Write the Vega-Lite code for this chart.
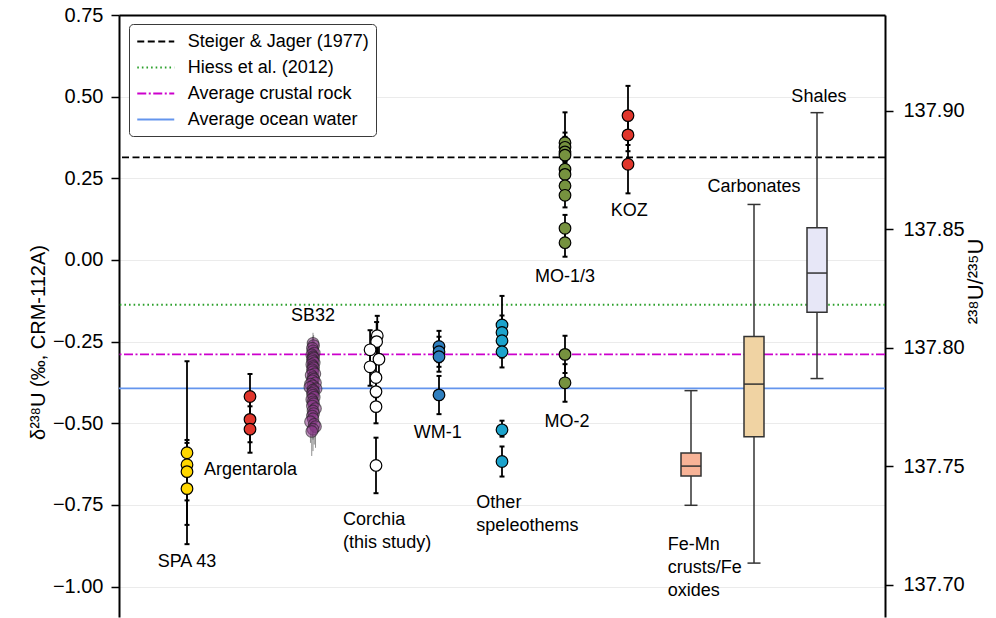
{
  "$schema": "https://vega.github.io/schema/vega-lite/v6.json",
  "width": 766,
  "height": 602,
  "autosize": {"type": "none"},
  "padding": {"left": 119, "top": 15, "right": 111, "bottom": 1},
  "background": "white",
  "config": {
    "view": {"stroke": null},
    "font": "Liberation Sans",
    "axis": {
      "labelFont": "Liberation Sans",
      "titleFont": "Liberation Sans",
      "labelFontSize": 20,
      "titleFontSize": 20,
      "titleFontWeight": "normal",
      "labelColor": "black",
      "titleColor": "black",
      "domainColor": "black",
      "domainWidth": 2,
      "tickColor": "black",
      "tickWidth": 1.5,
      "tickSize": 8,
      "labelPadding": 8,
      "gridColor": "#ebebeb",
      "gridWidth": 1
    },
    "legend": {
      "labelFont": "Liberation Sans",
      "labelFontSize": 18,
      "labelColor": "black",
      "labelLimit": 400
    }
  },
  "datasets": {
    "refs": [
      {"name": "Steiger & Jager (1977)", "value": 0.314},
      {"name": "Hiess et al. (2012)", "value": -0.137},
      {"name": "Average crustal rock", "value": -0.289},
      {"name": "Average ocean water", "value": -0.393}
    ],
    "pts": [
      {"g": "SPA 43", "x": 1, "y": -0.59, "lo": -0.87, "hi": -0.31},
      {"g": "SPA 43", "x": 1, "y": -0.627, "lo": -0.703, "hi": -0.551},
      {"g": "SPA 43", "x": 1, "y": -0.648, "lo": -0.736, "hi": -0.56},
      {"g": "SPA 43", "x": 1, "y": -0.7, "lo": -0.811, "hi": -0.59},
      {"g": "Argentarola", "x": 2, "y": -0.418, "lo": -0.487, "hi": -0.349},
      {"g": "Argentarola", "x": 2, "y": -0.488, "lo": -0.558, "hi": -0.418},
      {"g": "Argentarola", "x": 2, "y": -0.518, "lo": -0.59, "hi": -0.448},
      {"g": "Corchia", "x": 4.02, "y": -0.232, "lo": -0.29, "hi": -0.171},
      {"g": "Corchia", "x": 4.01, "y": -0.25, "lo": -0.31, "hi": -0.19},
      {"g": "Corchia", "x": 3.906, "y": -0.275, "lo": -0.335, "hi": -0.215},
      {"g": "Corchia", "x": 4.047, "y": -0.304, "lo": -0.36, "hi": -0.245},
      {"g": "Corchia", "x": 3.906, "y": -0.327, "lo": -0.385, "hi": -0.27},
      {"g": "Corchia", "x": 4.0, "y": -0.36, "lo": -0.42, "hi": -0.3},
      {"g": "Corchia", "x": 4.0, "y": -0.403, "lo": -0.46, "hi": -0.345},
      {"g": "Corchia", "x": 4.0, "y": -0.449, "lo": -0.5, "hi": -0.395},
      {"g": "Corchia", "x": 4.0, "y": -0.629, "lo": -0.714, "hi": -0.544},
      {"g": "WM-1", "x": 5, "y": -0.265, "lo": -0.313, "hi": -0.217},
      {"g": "WM-1", "x": 5, "y": -0.281, "lo": -0.327, "hi": -0.235},
      {"g": "WM-1", "x": 5, "y": -0.296, "lo": -0.342, "hi": -0.25},
      {"g": "WM-1", "x": 5, "y": -0.413, "lo": -0.472, "hi": -0.355},
      {"g": "Other speleothems", "x": 6, "y": -0.199, "lo": -0.288, "hi": -0.11},
      {"g": "Other speleothems", "x": 6, "y": -0.222, "lo": -0.274, "hi": -0.17},
      {"g": "Other speleothems", "x": 6, "y": -0.247, "lo": -0.299, "hi": -0.195},
      {"g": "Other speleothems", "x": 6, "y": -0.281, "lo": -0.329, "hi": -0.233},
      {"g": "Other speleothems", "x": 6, "y": -0.52, "lo": -0.541, "hi": -0.492},
      {"g": "Other speleothems", "x": 6, "y": -0.617, "lo": -0.663, "hi": -0.571},
      {"g": "MO", "x": 7, "y": 0.359, "lo": 0.266, "hi": 0.452},
      {"g": "MO", "x": 7, "y": 0.345, "lo": 0.3, "hi": 0.39},
      {"g": "MO", "x": 7, "y": 0.331, "lo": 0.285, "hi": 0.377},
      {"g": "MO", "x": 7, "y": 0.321, "lo": 0.275, "hi": 0.367},
      {"g": "MO", "x": 7, "y": 0.278, "lo": 0.235, "hi": 0.321},
      {"g": "MO", "x": 7, "y": 0.262, "lo": 0.22, "hi": 0.304},
      {"g": "MO", "x": 7, "y": 0.227, "lo": 0.185, "hi": 0.269},
      {"g": "MO", "x": 7, "y": 0.198, "lo": 0.161, "hi": 0.235},
      {"g": "MO", "x": 7, "y": 0.097, "lo": 0.056, "hi": 0.138},
      {"g": "MO", "x": 7, "y": 0.053, "lo": 0.01, "hi": 0.096},
      {"g": "MO", "x": 7, "y": -0.289, "lo": -0.346, "hi": -0.232},
      {"g": "MO", "x": 7, "y": -0.376, "lo": -0.434, "hi": -0.319},
      {"g": "KOZ", "x": 8, "y": 0.442, "lo": 0.352, "hi": 0.533},
      {"g": "KOZ", "x": 8, "y": 0.383, "lo": 0.333, "hi": 0.433},
      {"g": "KOZ", "x": 8, "y": 0.293, "lo": 0.204, "hi": 0.382}
    ],
    "sb32": [
      {"x": 3.0, "y": -0.255, "lo": -0.31, "hi": -0.223},
      {"x": 3.01, "y": -0.262, "lo": -0.32, "hi": -0.23},
      {"x": 2.99, "y": -0.27, "lo": -0.33, "hi": -0.235},
      {"x": 3.0, "y": -0.278, "lo": -0.335, "hi": -0.24},
      {"x": 3.02, "y": -0.285, "lo": -0.34, "hi": -0.245},
      {"x": 2.98, "y": -0.29, "lo": -0.345, "hi": -0.25},
      {"x": 3.0, "y": -0.296, "lo": -0.35, "hi": -0.255},
      {"x": 3.01, "y": -0.3, "lo": -0.355, "hi": -0.26},
      {"x": 2.99, "y": -0.305, "lo": -0.36, "hi": -0.26},
      {"x": 3.0, "y": -0.31, "lo": -0.365, "hi": -0.265},
      {"x": 3.02, "y": -0.315, "lo": -0.37, "hi": -0.27},
      {"x": 2.98, "y": -0.32, "lo": -0.375, "hi": -0.27},
      {"x": 3.0, "y": -0.326, "lo": -0.38, "hi": -0.28},
      {"x": 3.01, "y": -0.33, "lo": -0.385, "hi": -0.285},
      {"x": 2.99, "y": -0.336, "lo": -0.39, "hi": -0.29},
      {"x": 3.0, "y": -0.342, "lo": -0.395, "hi": -0.29},
      {"x": 3.03, "y": -0.348, "lo": -0.4, "hi": -0.3},
      {"x": 2.97, "y": -0.353, "lo": -0.405, "hi": -0.3},
      {"x": 3.0, "y": -0.36, "lo": -0.41, "hi": -0.31},
      {"x": 3.01, "y": -0.365, "lo": -0.415, "hi": -0.315},
      {"x": 2.99, "y": -0.37, "lo": -0.42, "hi": -0.32},
      {"x": 3.04, "y": -0.376, "lo": -0.43, "hi": -0.325},
      {"x": 2.96, "y": -0.38, "lo": -0.435, "hi": -0.33},
      {"x": 3.0, "y": -0.385, "lo": -0.44, "hi": -0.335},
      {"x": 2.95, "y": -0.39, "lo": -0.445, "hi": -0.34},
      {"x": 3.05, "y": -0.394, "lo": -0.45, "hi": -0.34},
      {"x": 3.0, "y": -0.398, "lo": -0.455, "hi": -0.345},
      {"x": 3.01, "y": -0.403, "lo": -0.46, "hi": -0.35},
      {"x": 2.99, "y": -0.408, "lo": -0.465, "hi": -0.355},
      {"x": 3.0, "y": -0.414, "lo": -0.47, "hi": -0.36},
      {"x": 3.02, "y": -0.42, "lo": -0.475, "hi": -0.365},
      {"x": 2.98, "y": -0.427, "lo": -0.48, "hi": -0.37},
      {"x": 3.0, "y": -0.434, "lo": -0.49, "hi": -0.38},
      {"x": 3.01, "y": -0.44, "lo": -0.5, "hi": -0.385},
      {"x": 2.99, "y": -0.447, "lo": -0.505, "hi": -0.39},
      {"x": 3.04, "y": -0.455, "lo": -0.51, "hi": -0.4},
      {"x": 3.0, "y": -0.462, "lo": -0.52, "hi": -0.405},
      {"x": 3.01, "y": -0.47, "lo": -0.53, "hi": -0.41},
      {"x": 2.99, "y": -0.478, "lo": -0.54, "hi": -0.42},
      {"x": 3.0, "y": -0.486, "lo": -0.55, "hi": -0.43},
      {"x": 2.96, "y": -0.495, "lo": -0.56, "hi": -0.44},
      {"x": 3.02, "y": -0.503, "lo": -0.565, "hi": -0.445},
      {"x": 3.04, "y": -0.51, "lo": -0.575, "hi": -0.45},
      {"x": 3.0, "y": -0.518, "lo": -0.585, "hi": -0.455},
      {"x": 2.98, "y": -0.525, "lo": -0.6, "hi": -0.46}
    ],
    "boxes": [
      {"g": "Fe-Mn", "x": 9, "wlo": -0.751, "q1": -0.661, "med": -0.631, "q3": -0.591, "whi": -0.4},
      {"g": "Carbonates", "x": 10, "wlo": -0.928, "q1": -0.541, "med": -0.38, "q3": -0.234, "whi": 0.17},
      {"g": "Shales", "x": 11, "wlo": -0.363, "q1": -0.16, "med": -0.04, "q3": 0.099, "whi": 0.451}
    ],
    "labels_center": [
      {"x": 1.0, "y": -0.924, "text": "SPA 43"},
      {"x": 3.0, "y": -0.171, "text": "SB32"},
      {"x": 4.98, "y": -0.531, "text": "WM-1"},
      {"x": 7.0, "y": -0.053, "text": "MO-1/3"},
      {"x": 7.03, "y": -0.495, "text": "MO-2"},
      {"x": 8.02, "y": 0.151, "text": "KOZ"},
      {"x": 10.0, "y": 0.223, "text": "Carbonates"},
      {"x": 11.03, "y": 0.499, "text": "Shales"}
    ],
    "labels_left": [
      {"x": 1.27, "y": -0.643, "text": ["Argentarola"]},
      {"x": 3.478, "y": -0.796, "text": ["Corchia", "(this study)"]},
      {"x": 5.593, "y": -0.745, "text": ["Other", "speleothems"]},
      {"x": 8.632, "y": -0.872, "text": ["Fe-Mn", "crusts/Fe", "oxides"]}
    ],
    "ratio": [{"r": 137.7}, {"r": 137.9}]
  },
  "layer": [
    {
      "layer": [
        {
          "data": {"name": "refs"},
          "mark": {"type": "rule", "strokeWidth": 1.8},
          "encoding": {
            "y": {"field": "value", "type": "quantitative", "scale": {"domain": [-1.093, 0.75], "nice": false, "zero": false},
                  "axis": {"values": [-1, -0.75, -0.5, -0.25, 0, 0.25, 0.5, 0.75], "format": ".2f", "title": "δ²³⁸U (‰, CRM-112A)", "grid": true, "titleX": -81, "titleY": 327, "titleAngle": 270, "titleAlign": "center", "titleBaseline": "middle"}},
            "color": {
              "field": "name", "type": "nominal",
              "scale": {"domain": ["Steiger & Jager (1977)", "Hiess et al. (2012)", "Average crustal rock", "Average ocean water"],
                        "range": ["#000000", "#2ca02c", "#cc00cc", "#6495ed"]},
              "legend": {"title": null, "orient": "none", "legendX": 10, "legendY": 9,
                         "symbolType": "M-2,0H2", "symbolSize": 342, "symbolStrokeWidth": 1.8, "symbolOffset": 9.25,
                         "labelOffset": 21.5, "rowPadding": 6, "padding": 7,
                         "strokeColor": "#3a3a3a", "fillColor": "white", "cornerRadius": 4}
            },
            "strokeDash": {
              "field": "name", "type": "nominal",
              "scale": {"domain": ["Steiger & Jager (1977)", "Hiess et al. (2012)", "Average crustal rock", "Average ocean water"],
                        "range": [[7, 3.5], [1.6, 3], [9, 2.5, 2, 2.5], [1, 0]]},
              "legend": {"title": null}
            }
          }
        },
        {
          "data": {"name": "boxes"},
          "mark": {"type": "rule", "stroke": "#333", "strokeWidth": 1.5},
          "encoding": {
            "x": {"field": "x", "type": "quantitative", "scale": {"domain": [0, 12], "nice": false, "zero": false}, "axis": {"orient": "top", "labels": false, "ticks": false, "title": null, "grid": false}},
            "y": {"field": "wlo", "type": "quantitative", "scale": {"domain": [-1.093, 0.75], "nice": false, "zero": false}, "axis": {"values": [-1, -0.75, -0.5, -0.25, 0, 0.25, 0.5, 0.75], "format": ".2f", "title": "δ²³⁸U (‰, CRM-112A)", "grid": true, "titleX": -81, "titleY": 327, "titleAngle": 270, "titleAlign": "center", "titleBaseline": "middle"}},
            "y2": {"field": "whi"}
          }
        },
        {
          "data": {"name": "boxes"},
          "mark": {"type": "bar", "size": 20, "stroke": "#333", "strokeWidth": 1.5},
          "encoding": {
            "x": {"field": "x", "type": "quantitative", "scale": {"domain": [0, 12], "nice": false, "zero": false}, "axis": {"orient": "top", "labels": false, "ticks": false, "title": null, "grid": false}},
            "y": {"field": "q1", "type": "quantitative", "scale": {"domain": [-1.093, 0.75], "nice": false, "zero": false}, "axis": {"values": [-1, -0.75, -0.5, -0.25, 0, 0.25, 0.5, 0.75], "format": ".2f", "title": "δ²³⁸U (‰, CRM-112A)", "grid": true, "titleX": -81, "titleY": 327, "titleAngle": 270, "titleAlign": "center", "titleBaseline": "middle"}},
            "y2": {"field": "q3"},
            "fill": {"field": "g", "type": "nominal", "legend": null,
                     "scale": {"domain": ["SPA 43", "Argentarola", "Corchia", "WM-1", "Other speleothems", "MO", "KOZ", "Fe-Mn", "Carbonates", "Shales"],
                               "range": ["#ffd700", "#e0362c", "#ffffff", "#2f7fbf", "#1ca3cc", "#76923f", "#e0362c", "#f8b397", "#f0d3a3", "#e7e7f7"]}}
          }
        },
        {
          "data": {"name": "boxes"},
          "mark": {"type": "point", "shape": "stroke", "size": 400, "stroke": "#333", "strokeWidth": 1.5, "opacity": 1},
          "encoding": {
            "x": {"field": "x", "type": "quantitative", "scale": {"domain": [0, 12], "nice": false, "zero": false}, "axis": {"orient": "top", "labels": false, "ticks": false, "title": null, "grid": false}},
            "y": {"field": "med", "type": "quantitative", "scale": {"domain": [-1.093, 0.75], "nice": false, "zero": false}, "axis": {"values": [-1, -0.75, -0.5, -0.25, 0, 0.25, 0.5, 0.75], "format": ".2f", "title": "δ²³⁸U (‰, CRM-112A)", "grid": true, "titleX": -81, "titleY": 327, "titleAngle": 270, "titleAlign": "center", "titleBaseline": "middle"}}
          }
        },
        {
          "data": {"name": "boxes"},
          "mark": {"type": "point", "shape": "stroke", "size": 169, "stroke": "#333", "strokeWidth": 1.5, "opacity": 1},
          "encoding": {
            "x": {"field": "x", "type": "quantitative", "scale": {"domain": [0, 12], "nice": false, "zero": false}, "axis": {"orient": "top", "labels": false, "ticks": false, "title": null, "grid": false}},
            "y": {"field": "wlo", "type": "quantitative", "scale": {"domain": [-1.093, 0.75], "nice": false, "zero": false}, "axis": {"values": [-1, -0.75, -0.5, -0.25, 0, 0.25, 0.5, 0.75], "format": ".2f", "title": "δ²³⁸U (‰, CRM-112A)", "grid": true, "titleX": -81, "titleY": 327, "titleAngle": 270, "titleAlign": "center", "titleBaseline": "middle"}}
          }
        },
        {
          "data": {"name": "boxes"},
          "mark": {"type": "point", "shape": "stroke", "size": 169, "stroke": "#333", "strokeWidth": 1.5, "opacity": 1},
          "encoding": {
            "x": {"field": "x", "type": "quantitative", "scale": {"domain": [0, 12], "nice": false, "zero": false}, "axis": {"orient": "top", "labels": false, "ticks": false, "title": null, "grid": false}},
            "y": {"field": "whi", "type": "quantitative", "scale": {"domain": [-1.093, 0.75], "nice": false, "zero": false}, "axis": {"values": [-1, -0.75, -0.5, -0.25, 0, 0.25, 0.5, 0.75], "format": ".2f", "title": "δ²³⁸U (‰, CRM-112A)", "grid": true, "titleX": -81, "titleY": 327, "titleAngle": 270, "titleAlign": "center", "titleBaseline": "middle"}}
          }
        },
        {
          "data": {"name": "sb32"},
          "mark": {"type": "rule", "stroke": "#333", "strokeWidth": 1, "opacity": 0.55},
          "encoding": {
            "x": {"field": "x", "type": "quantitative", "scale": {"domain": [0, 12], "nice": false, "zero": false}, "axis": {"orient": "top", "labels": false, "ticks": false, "title": null, "grid": false}},
            "y": {"field": "lo", "type": "quantitative", "scale": {"domain": [-1.093, 0.75], "nice": false, "zero": false}, "axis": {"values": [-1, -0.75, -0.5, -0.25, 0, 0.25, 0.5, 0.75], "format": ".2f", "title": "δ²³⁸U (‰, CRM-112A)", "grid": true, "titleX": -81, "titleY": 327, "titleAngle": 270, "titleAlign": "center", "titleBaseline": "middle"}},
            "y2": {"field": "hi"}
          }
        },
        {
          "data": {"name": "sb32"},
          "mark": {"type": "point", "shape": "circle", "filled": true, "size": 135, "fill": "#8b3a8b", "fillOpacity": 0.55, "stroke": "#222", "strokeWidth": 1.1, "strokeOpacity": 0.6},
          "encoding": {
            "x": {"field": "x", "type": "quantitative", "scale": {"domain": [0, 12], "nice": false, "zero": false}, "axis": {"orient": "top", "labels": false, "ticks": false, "title": null, "grid": false}},
            "y": {"field": "y", "type": "quantitative", "scale": {"domain": [-1.093, 0.75], "nice": false, "zero": false}, "axis": {"values": [-1, -0.75, -0.5, -0.25, 0, 0.25, 0.5, 0.75], "format": ".2f", "title": "δ²³⁸U (‰, CRM-112A)", "grid": true, "titleX": -81, "titleY": 327, "titleAngle": 270, "titleAlign": "center", "titleBaseline": "middle"}}
          }
        },
        {
          "data": {"name": "pts"},
          "mark": {"type": "rule", "stroke": "black", "strokeWidth": 1.8},
          "encoding": {
            "x": {"field": "x", "type": "quantitative", "scale": {"domain": [0, 12], "nice": false, "zero": false}, "axis": {"orient": "top", "labels": false, "ticks": false, "title": null, "grid": false}},
            "y": {"field": "lo", "type": "quantitative", "scale": {"domain": [-1.093, 0.75], "nice": false, "zero": false}, "axis": {"values": [-1, -0.75, -0.5, -0.25, 0, 0.25, 0.5, 0.75], "format": ".2f", "title": "δ²³⁸U (‰, CRM-112A)", "grid": true, "titleX": -81, "titleY": 327, "titleAngle": 270, "titleAlign": "center", "titleBaseline": "middle"}},
            "y2": {"field": "hi"}
          }
        },
        {
          "data": {"name": "pts"},
          "mark": {"type": "point", "shape": "stroke", "size": 25, "stroke": "black", "strokeWidth": 2, "opacity": 1},
          "encoding": {
            "x": {"field": "x", "type": "quantitative", "scale": {"domain": [0, 12], "nice": false, "zero": false}, "axis": {"orient": "top", "labels": false, "ticks": false, "title": null, "grid": false}},
            "y": {"field": "lo", "type": "quantitative", "scale": {"domain": [-1.093, 0.75], "nice": false, "zero": false}, "axis": {"values": [-1, -0.75, -0.5, -0.25, 0, 0.25, 0.5, 0.75], "format": ".2f", "title": "δ²³⁸U (‰, CRM-112A)", "grid": true, "titleX": -81, "titleY": 327, "titleAngle": 270, "titleAlign": "center", "titleBaseline": "middle"}}
          }
        },
        {
          "data": {"name": "pts"},
          "mark": {"type": "point", "shape": "stroke", "size": 25, "stroke": "black", "strokeWidth": 2, "opacity": 1},
          "encoding": {
            "x": {"field": "x", "type": "quantitative", "scale": {"domain": [0, 12], "nice": false, "zero": false}, "axis": {"orient": "top", "labels": false, "ticks": false, "title": null, "grid": false}},
            "y": {"field": "hi", "type": "quantitative", "scale": {"domain": [-1.093, 0.75], "nice": false, "zero": false}, "axis": {"values": [-1, -0.75, -0.5, -0.25, 0, 0.25, 0.5, 0.75], "format": ".2f", "title": "δ²³⁸U (‰, CRM-112A)", "grid": true, "titleX": -81, "titleY": 327, "titleAngle": 270, "titleAlign": "center", "titleBaseline": "middle"}}
          }
        },
        {
          "data": {"name": "pts"},
          "mark": {"type": "point", "shape": "circle", "filled": true, "size": 135, "stroke": "black", "strokeWidth": 1.2, "opacity": 1},
          "encoding": {
            "x": {"field": "x", "type": "quantitative", "scale": {"domain": [0, 12], "nice": false, "zero": false}, "axis": {"orient": "top", "labels": false, "ticks": false, "title": null, "grid": false}},
            "y": {"field": "y", "type": "quantitative", "scale": {"domain": [-1.093, 0.75], "nice": false, "zero": false}, "axis": {"values": [-1, -0.75, -0.5, -0.25, 0, 0.25, 0.5, 0.75], "format": ".2f", "title": "δ²³⁸U (‰, CRM-112A)", "grid": true, "titleX": -81, "titleY": 327, "titleAngle": 270, "titleAlign": "center", "titleBaseline": "middle"}},
            "fill": {"field": "g", "type": "nominal", "legend": null,
                     "scale": {"domain": ["SPA 43", "Argentarola", "Corchia", "WM-1", "Other speleothems", "MO", "KOZ", "Fe-Mn", "Carbonates", "Shales"],
                               "range": ["#ffd700", "#e0362c", "#ffffff", "#2f7fbf", "#1ca3cc", "#76923f", "#e0362c", "#f8b397", "#f0d3a3", "#e7e7f7"]}}
          }
        },
        {
          "data": {"name": "labels_center"},
          "mark": {"type": "text", "font": "Liberation Sans", "fontSize": 18, "color": "black", "align": "center", "baseline": "middle"},
          "encoding": {
            "x": {"field": "x", "type": "quantitative", "scale": {"domain": [0, 12], "nice": false, "zero": false}, "axis": {"orient": "top", "labels": false, "ticks": false, "title": null, "grid": false}},
            "y": {"field": "y", "type": "quantitative", "scale": {"domain": [-1.093, 0.75], "nice": false, "zero": false}, "axis": {"values": [-1, -0.75, -0.5, -0.25, 0, 0.25, 0.5, 0.75], "format": ".2f", "title": "δ²³⁸U (‰, CRM-112A)", "grid": true, "titleX": -81, "titleY": 327, "titleAngle": 270, "titleAlign": "center", "titleBaseline": "middle"}},
            "text": {"field": "text", "type": "nominal"}
          }
        },
        {
          "data": {"name": "labels_left"},
          "mark": {"type": "text", "font": "Liberation Sans", "fontSize": 18, "color": "black", "align": "left", "baseline": "middle", "lineHeight": 23},
          "encoding": {
            "x": {"field": "x", "type": "quantitative", "scale": {"domain": [0, 12], "nice": false, "zero": false}, "axis": {"orient": "top", "labels": false, "ticks": false, "title": null, "grid": false}},
            "y": {"field": "y", "type": "quantitative", "scale": {"domain": [-1.093, 0.75], "nice": false, "zero": false}, "axis": {"values": [-1, -0.75, -0.5, -0.25, 0, 0.25, 0.5, 0.75], "format": ".2f", "title": "δ²³⁸U (‰, CRM-112A)", "grid": true, "titleX": -81, "titleY": 327, "titleAngle": 270, "titleAlign": "center", "titleBaseline": "middle"}},
            "text": {"field": "text"}
          }
        }
      ]
    },
    {
      "data": {"name": "ratio"},
      "mark": {"type": "point", "opacity": 0},
      "encoding": {
        "y": {"field": "r", "type": "quantitative", "scale": {"domain": [137.6863, 137.9404], "nice": false, "zero": false},
              "axis": {"orient": "right", "values": [137.7, 137.75, 137.8, 137.85, 137.9], "format": ".2f", "title": "²³⁸U/²³⁵U", "titleFontSize": 22, "labelPadding": 10, "titleAngle": 270, "titleX": 90, "titleY": 266, "titleAlign": "center", "titleBaseline": "middle", "grid": false}}
      }
    }
  ],
  "resolve": {"scale": {"y": "independent"}, "axis": {"y": "independent"}}
}
